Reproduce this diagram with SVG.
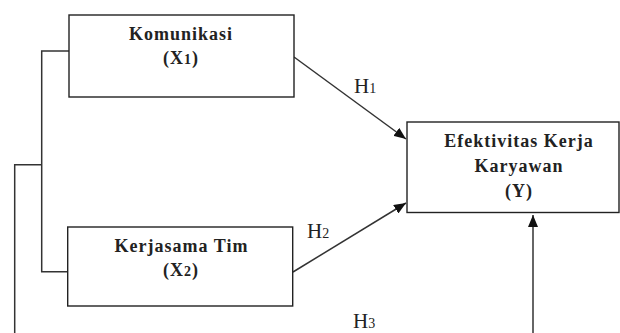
<svg xmlns="http://www.w3.org/2000/svg" width="620" height="333" viewBox="0 0 620 333">
<style>
.box{fill:#fff;stroke:#222;stroke-width:1.4}
.ln{fill:none;stroke:#333;stroke-width:1.5}
.t{font-family:"Liberation Serif","Times New Roman",serif;font-weight:bold;font-size:18px;letter-spacing:1px;fill:#222;text-anchor:middle}
.h{font-family:"Liberation Serif","Times New Roman",serif;font-size:21px;fill:#222}
.s{font-size:14px}
</style>
<defs>
<marker id="ah" viewBox="0 0 12 10" refX="12" refY="5" markerWidth="12" markerHeight="10" markerUnits="userSpaceOnUse" orient="auto">
<path d="M0,0 L12,5 L0,10 Z" fill="#111"/>
</marker>
</defs>
<g id="connectors">
<polyline class="ln" points="69,51 41.7,51 41.7,271.7 67.7,271.7"/>
<polyline class="ln" points="41.7,164.7 14.7,164.7 14.7,333"/>
<line class="ln" x1="294" y1="57" x2="406" y2="139" marker-end="url(#ah)"/>
<line class="ln" x1="293" y1="272" x2="406" y2="203" marker-end="url(#ah)"/>
<line class="ln" x1="533" y1="333" x2="533" y2="215" marker-end="url(#ah)"/>
<text class="h" x="354" y="93">H<tspan class="s">1</tspan></text>
<text class="h" x="307" y="238">H<tspan class="s">2</tspan></text>
<text class="h" x="353" y="328">H<tspan class="s">3</tspan></text>
</g>
<g id="komunikasi">
<rect class="box" x="69" y="15" width="225" height="82"/>
<text class="t" x="181" y="40">Komunikasi</text>
<text class="t" x="181" y="64">(X<tspan class="s">1</tspan>)</text>
</g>
<g id="kerjasama">
<rect class="box" x="67.7" y="227" width="225" height="79"/>
<text class="t" x="181.5" y="252">Kerjasama Tim</text>
<text class="t" x="181" y="276">(X<tspan class="s">2</tspan>)</text>
</g>
<g id="efektivitas">
<rect class="box" x="407" y="122" width="212" height="90.5"/>
<text class="t" x="519" y="147">Efektivitas Kerja</text>
<text class="t" x="519" y="172">Karyawan</text>
<text class="t" x="519" y="197">(Y)</text>
</g>
</svg>
